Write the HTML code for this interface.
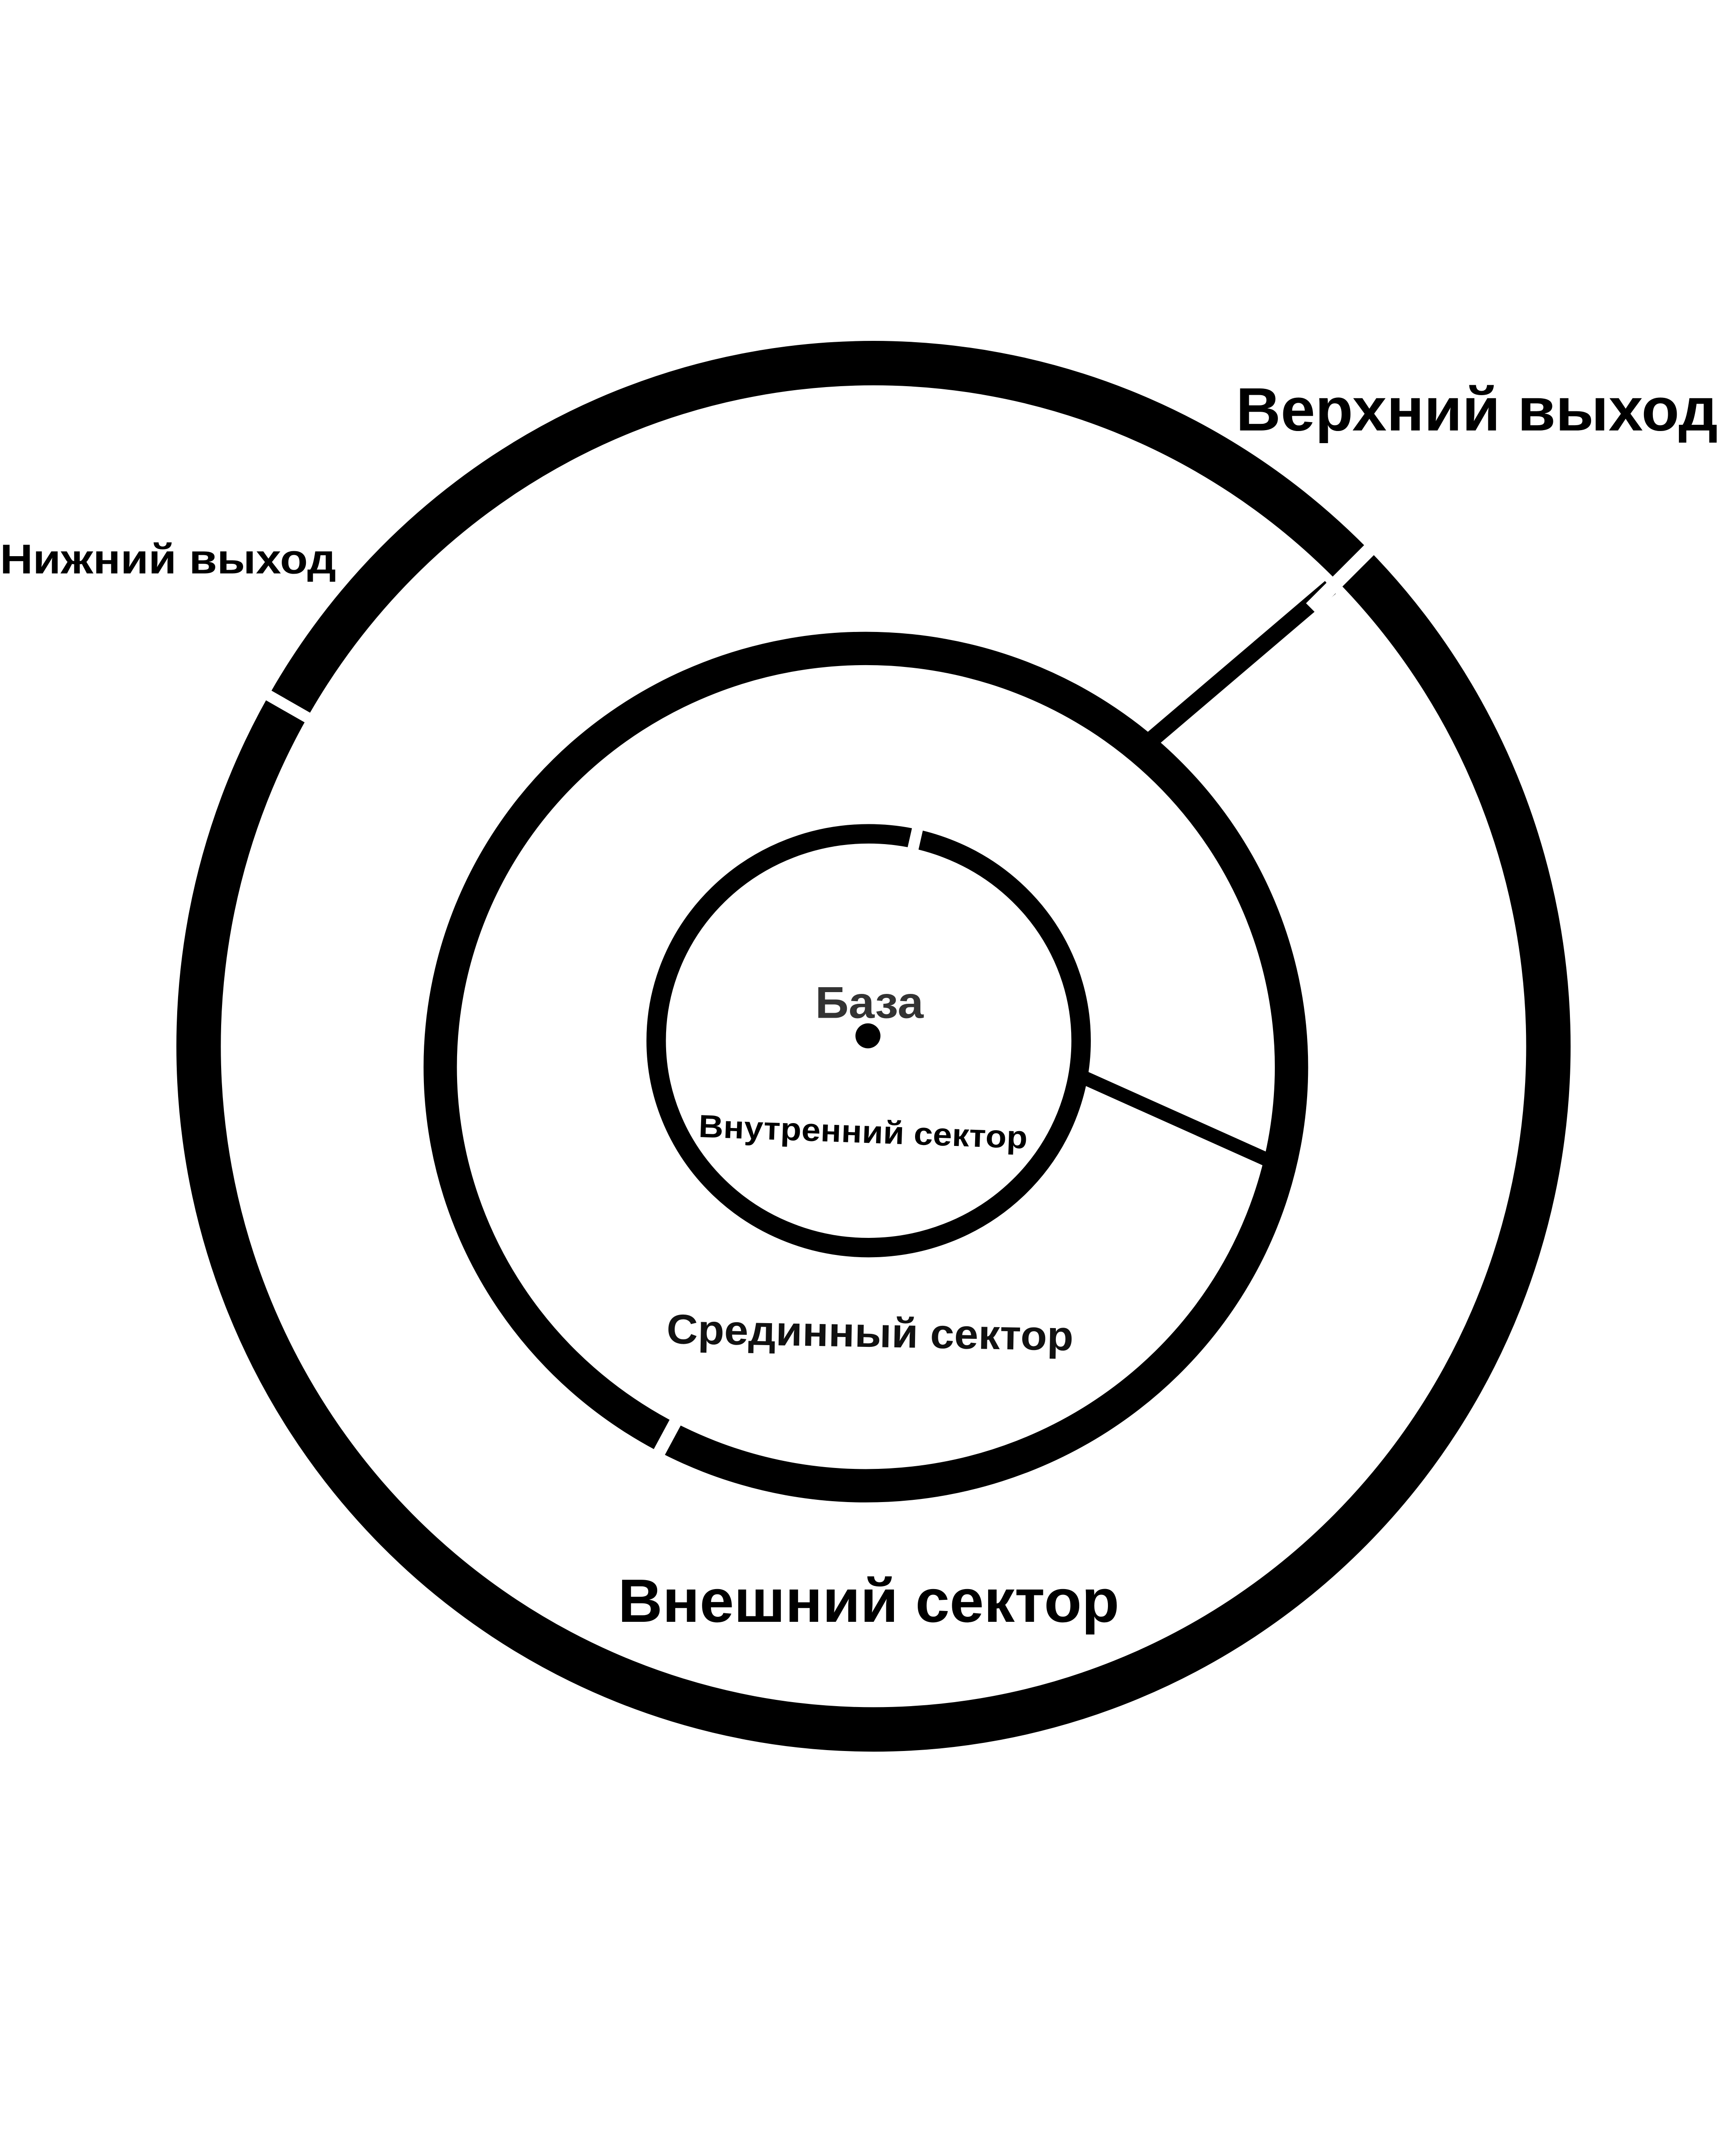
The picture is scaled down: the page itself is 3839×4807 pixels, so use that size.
<!DOCTYPE html>
<html><head><meta charset="utf-8"><style>
html,body{margin:0;padding:0;background:#fff;}
svg{display:block;}
text{font-family:"Liberation Sans","DejaVu Sans",sans-serif;font-weight:bold;}
</style></head><body>
<svg width="3839" height="4807" viewBox="0 0 1240 1552.7" xmlns="http://www.w3.org/2000/svg">
<rect width="1240" height="1552.7" fill="#fff"/>
<ellipse cx="629" cy="753.5" rx="486" ry="492" fill="none" stroke="#000" stroke-width="32"/>
<ellipse cx="623.5" cy="768.5" rx="306.5" ry="301.5" fill="none" stroke="#000" stroke-width="24"/>
<ellipse cx="625.5" cy="749.5" rx="153" ry="149" fill="none" stroke="#000" stroke-width="14"/>
<line x1="830" y1="532" x2="958" y2="423" stroke="#000" stroke-width="12"/>
<line x1="776" y1="774" x2="912" y2="835" stroke="#000" stroke-width="10"/>
<line x1="944" y1="438" x2="1000" y2="382" stroke="#fff" stroke-width="10"/>
<line x1="178" y1="492" x2="248" y2="532" stroke="#fff" stroke-width="8"/>
<line x1="466" y1="1062" x2="494" y2="1010" stroke="#fff" stroke-width="9"/>
<line x1="655" y1="622" x2="665" y2="578" stroke="#fff" stroke-width="8"/>
<circle cx="625" cy="746" r="9" fill="#000"/>
<text x="587" y="733" font-size="32" textLength="78" lengthAdjust="spacingAndGlyphs" fill="#333">База</text>
<text x="503" y="823" font-size="23" textLength="237" lengthAdjust="spacingAndGlyphs" fill="#000" transform="rotate(2 622 815)">Внутренний сектор</text>
<text x="480" y="970" font-size="30" textLength="293" lengthAdjust="spacingAndGlyphs" fill="#111" transform="rotate(1 626 960)">Срединный сектор</text>
<text x="445" y="1168" font-size="44" textLength="361" lengthAdjust="spacingAndGlyphs" fill="#000">Внешний сектор</text>
<text x="890" y="310" font-size="44" textLength="347" lengthAdjust="spacingAndGlyphs" fill="#000">Верхний выход</text>
<text x="0" y="413" font-size="30" textLength="242" lengthAdjust="spacingAndGlyphs" fill="#000">Нижний выход</text>
</svg>
</body></html>
